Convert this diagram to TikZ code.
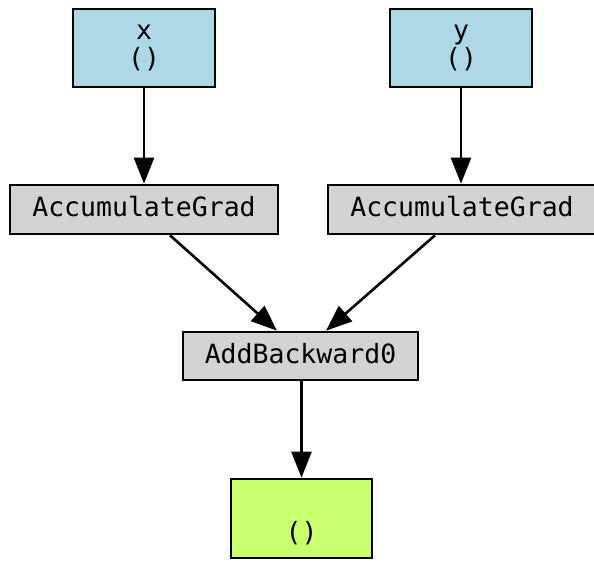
\documentclass[tikz,border=0pt]{standalone}
\usepackage{fontspec}
\newfontfamily\graphfont{DejaVu Sans Mono}
\usetikzlibrary{arrows.meta,calc}
\definecolor{leafblue}{HTML}{ADD8E6}
\definecolor{opgray}{HTML}{D3D3D3}
\definecolor{outgreen}{HTML}{CAFF70}
\begin{document}
\begin{tikzpicture}[x=1pt,y=-1pt,
  gbox/.style={draw=black,line width=2.6pt,inner sep=0pt,
    font=\graphfont\fontsize{26.5}{28.5}\selectfont},
  leaf/.style={gbox,fill=leafblue,align=center},
  opbox/.style={gbox,fill=opgray,text height=19pt,text depth=5pt},
  outbox/.style={gbox,fill=outgreen,align=center},
  edge/.style={line width=2.6pt,-{Triangle[length=26pt,width=20pt]}}]
\useasboundingbox (0,0) rectangle (594,563);
\clip (0,0) rectangle (594,563);

% tensors and backward functions
\node[leaf,minimum width=142pt,minimum height=78pt] (x) at (144,48) {x\\()};
\node[leaf,minimum width=142pt,minimum height=78pt] (y) at (461,48) {y\\()};
\node[opbox,minimum width=268pt,minimum height=49pt] (ag1) at (144,209.5) {AccumulateGrad};
\node[opbox,minimum width=268pt,minimum height=49pt] (ag2) at (462,209.5) {AccumulateGrad};
\node[opbox,minimum width=235pt,minimum height=48pt] (add) at (300.5,356) {AddBackward0};
\node[outbox,minimum width=141pt,minimum height=79pt] (out) at (301.5,518.5) {\strut\\()};

% gradient flow
\draw[edge] (x.south) -- (x.south |- ag1.north);
\draw[edge] (y.south) -- (y.south |- ag2.north);
\draw[edge] ([xshift=26pt]ag1.south) -- ([xshift=-23.5pt]add.north);
\draw[edge] ([xshift=-27pt]ag2.south) -- ([xshift=25.5pt]add.north);
\draw[edge] (out.north |- add.south) -- (out.north);
\end{tikzpicture}
\end{document}
